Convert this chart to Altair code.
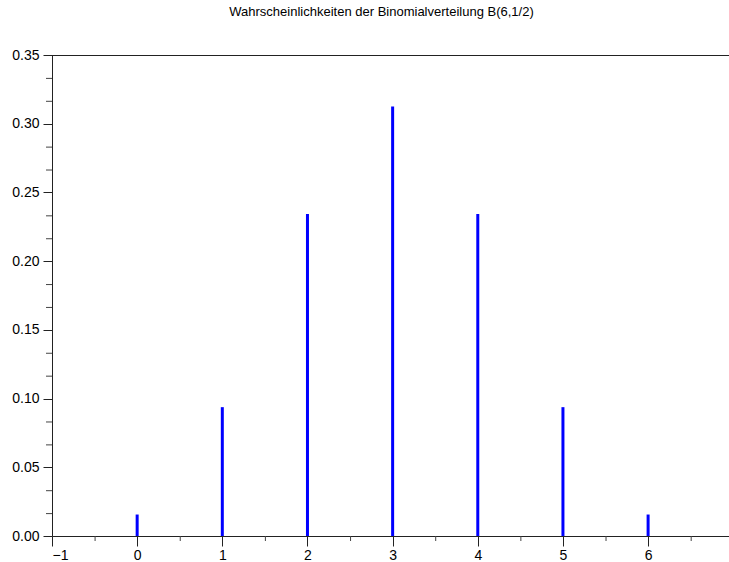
import altair as alt
import pandas as pd

# Binomial distribution B(6, 1/2): outcomes and their probabilities
k_values = [0, 1, 2, 3, 4, 5, 6]
probabilities = [0.015625, 0.09375, 0.234375, 0.3125, 0.234375, 0.09375, 0.015625]

x_major = [-1, 0, 1, 2, 3, 4, 5, 6]
x_minor = [-0.5, 0.5, 1.5, 2.5, 3.5, 4.5, 5.5, 6.5]
y_major = [0.0, 0.05, 0.10, 0.15, 0.20, 0.25, 0.30, 0.35]
y_minor = [0.05 * i + 0.05 * j / 3 for i in range(7) for j in (1, 2)]

W, H = 677, 481
FONT = "Liberation Sans"

bars_df = pd.DataFrame({"k": k_values, "p": probabilities})
xminor_df = pd.DataFrame({"v": x_minor})
yminor_df = pd.DataFrame({"v": y_minor})

x_scale = alt.Scale(domain=[-1, 6.95], clamp=True, nice=False, zero=False)
y_scale = alt.Scale(domain=[0, 0.35], nice=False)

x_axis = alt.Axis(
    values=x_major, format="d", title=None, grid=False,
    tickSize=10, tickColor="#222", domainColor="#222",
    labelFontSize=14, labelColor="black", labelPadding=2, labelFont=FONT,
)
y_axis = alt.Axis(
    values=y_major, format=".2f", title=None, grid=False,
    tickSize=9, tickColor="#222", domainColor="#222",
    labelFontSize=14, labelColor="black", labelPadding=4, labelFont=FONT,
)

bars = alt.Chart(bars_df).mark_rule(color="#0000FF", strokeWidth=3).encode(
    x=alt.X("k:Q", scale=x_scale, axis=x_axis),
    y=alt.Y("p:Q", scale=y_scale, axis=y_axis),
    y2=alt.datum(0),
)

top_line = alt.Chart(bars_df).mark_rule(
    color="#222", strokeWidth=1, yOffset=0.5
).encode(y=alt.datum(0.35))

x_minor_ticks = alt.Chart(xminor_df).mark_rule(
    color="#444", strokeWidth=1, clip=False, xOffset=0.5
).encode(
    x=alt.X("v:Q", scale=x_scale),
    y=alt.value(H),
    y2=alt.value(H + 5),
)

y_minor_ticks = alt.Chart(yminor_df).mark_rule(
    color="#444", strokeWidth=1, clip=False, yOffset=0.5
).encode(
    y=alt.Y("v:Q", scale=y_scale),
    x=alt.value(-6),
    x2=alt.value(0),
)

chart = (
    alt.layer(bars, top_line, x_minor_ticks, y_minor_ticks)
    .properties(
        width=W,
        height=H,
        title=alt.TitleParams(
            "Wahrscheinlichkeiten der Binomialverteilung B(6,1/2)",
            fontSize=13, font=FONT, fontWeight="normal", color="black",
            anchor="middle", offset=29, dx=-9,
        ),
        autosize=alt.AutoSizeParams(type="none"),
        padding={"left": 52, "top": 55, "right": 0, "bottom": 26},
    )
    .configure_view(stroke=None)
    .configure(background="white")
)

chart.save("out.html", embed_options={"renderer": "svg", "actions": False})
